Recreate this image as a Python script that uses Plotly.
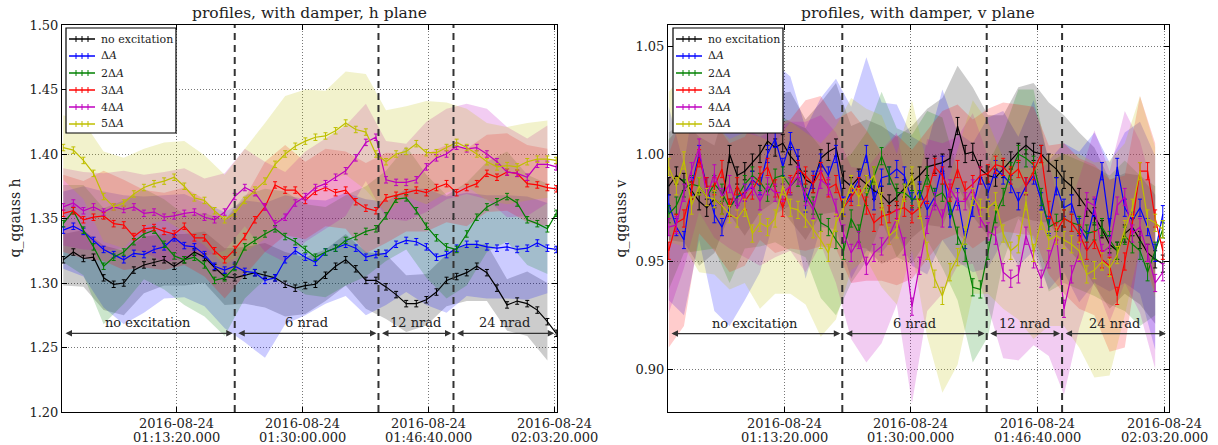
import pandas as pd
import plotly.graph_objects as go

# ---------------- data ----------------
BASE = "2016-08-24 01:00:00"
series_names = ["no excitation", "Δ<i>A</i>", "2Δ<i>A</i>", "3Δ<i>A</i>", "4Δ<i>A</i>", "5Δ<i>A</i>"]

# time offsets (s) from 01:00:00
t_h_sec = [-100, -20, 60, 140, 220, 300, 380, 460, 540, 620, 700, 780, 860, 940, 1020, 1100, 1180,
           1260, 1340, 1420, 1500, 1580, 1660, 1740, 1820, 1900, 1980, 2060, 2140, 2220, 2300, 2380,
           2460, 2540, 2620, 2700, 2780, 2860, 2940, 3020, 3100, 3180, 3260, 3340, 3420, 3500, 3580,
           3660, 3740, 3810]
t_v_sec = [-110, -50, 10, 70, 130, 190, 250, 310, 370, 430, 490, 550, 610, 670, 730, 790, 850, 910,
           970, 1030, 1090, 1150, 1210, 1270, 1330, 1390, 1450, 1510, 1570, 1630, 1690, 1750, 1810,
           1870, 1930, 1990, 2050, 2110, 2170, 2230, 2290, 2350, 2410, 2470, 2530, 2590, 2650, 2710,
           2770, 2830, 2890, 2950, 3010, 3070, 3130, 3190, 3250, 3310, 3370, 3430, 3490, 3550, 3610,
           3670, 3730, 3790]

h_noexc = [1.318, 1.324, 1.319, 1.320, 1.304, 1.299, 1.300, 1.310, 1.314, 1.316,
           1.318, 1.313, 1.318, 1.324, 1.320, 1.312, 1.305, 1.304, 1.306, 1.308,
           1.306, 1.304, 1.299, 1.296, 1.298, 1.299, 1.306, 1.313, 1.318, 1.311,
           1.302, 1.302, 1.297, 1.291, 1.284, 1.284, 1.287, 1.293, 1.302, 1.305,
           1.308, 1.313, 1.308, 1.296, 1.283, 1.286, 1.284, 1.279, 1.270, 1.261]
h_dA = [1.341, 1.344, 1.340, 1.333, 1.326, 1.322, 1.318, 1.323, 1.322, 1.326,
        1.328, 1.335, 1.329, 1.328, 1.322, 1.313, 1.310, 1.313, 1.309, 1.308,
        1.302, 1.304, 1.318, 1.325, 1.320, 1.316, 1.324, 1.327, 1.330, 1.327,
        1.320, 1.322, 1.323, 1.330, 1.333, 1.332, 1.328, 1.320, 1.322, 1.327,
        1.330, 1.330, 1.328, 1.327, 1.328, 1.326, 1.327, 1.331, 1.327, 1.326]
h_2dA = [1.346, 1.356, 1.341, 1.328, 1.313, 1.320, 1.324, 1.332, 1.338, 1.341,
         1.330, 1.321, 1.318, 1.320, 1.314, 1.302, 1.304, 1.312, 1.328, 1.333,
         1.338, 1.342, 1.336, 1.332, 1.326, 1.320, 1.324, 1.327, 1.333, 1.336,
         1.340, 1.342, 1.352, 1.365, 1.366, 1.356, 1.344, 1.335, 1.328, 1.326,
         1.338, 1.351, 1.359, 1.363, 1.367, 1.362, 1.349, 1.346, 1.342, 1.354]
h_3dA = [1.354, 1.356, 1.349, 1.351, 1.352, 1.346, 1.345, 1.336, 1.342, 1.343,
         1.340, 1.338, 1.344, 1.335, 1.335, 1.325, 1.318, 1.326, 1.336, 1.349,
         1.359, 1.376, 1.372, 1.372, 1.364, 1.371, 1.374, 1.370, 1.372, 1.363,
         1.358, 1.356, 1.366, 1.368, 1.370, 1.372, 1.370, 1.374, 1.377, 1.370,
         1.374, 1.377, 1.385, 1.382, 1.386, 1.385, 1.377, 1.376, 1.374, 1.373]
h_4dA = [1.359, 1.362, 1.356, 1.359, 1.355, 1.359, 1.357, 1.359, 1.354, 1.355,
         1.351, 1.352, 1.354, 1.355, 1.351, 1.349, 1.355, 1.367, 1.374, 1.370,
         1.359, 1.346, 1.351, 1.362, 1.367, 1.374, 1.377, 1.382, 1.387, 1.397,
         1.409, 1.413, 1.380, 1.378, 1.378, 1.380, 1.390, 1.397, 1.400, 1.406,
         1.404, 1.405, 1.400, 1.394, 1.386, 1.385, 1.382, 1.392, 1.392, 1.390]
h_5dA = [1.405, 1.403, 1.395, 1.385, 1.367, 1.359, 1.362, 1.369, 1.374, 1.377,
         1.379, 1.382, 1.375, 1.366, 1.364, 1.356, 1.349, 1.354, 1.364, 1.372,
         1.379, 1.392, 1.400, 1.406, 1.410, 1.413, 1.414, 1.418, 1.424, 1.419,
         1.417, 1.400, 1.394, 1.400, 1.402, 1.408, 1.401, 1.401, 1.405, 1.409,
         1.405, 1.400, 1.394, 1.390, 1.391, 1.390, 1.394, 1.396, 1.396, 1.395]

# band half widths (every second sample)
hw_h_noexc = [0.020, 0.022, 0.025, 0.025, 0.022, 0.020, 0.020, 0.020, 0.022, 0.022, 0.025, 0.025, 0.022,
              0.020, 0.020, 0.022, 0.025, 0.022, 0.020, 0.020, 0.022, 0.022, 0.020, 0.025, 0.030]
hw_h_dA = [0.030, 0.035, 0.045, 0.050, 0.045, 0.040, 0.040, 0.040, 0.045, 0.055, 0.060, 0.050, 0.045,
           0.040, 0.040, 0.045, 0.040, 0.040, 0.045, 0.045, 0.040, 0.040, 0.040, 0.040, 0.035]
hw_h_2dA = [0.030, 0.035, 0.045, 0.040, 0.035, 0.035, 0.035, 0.040, 0.045, 0.040, 0.035, 0.035, 0.035,
            0.035, 0.035, 0.035, 0.035, 0.040, 0.040, 0.040, 0.040, 0.035, 0.035, 0.035, 0.035]
hw_h_3dA = [0.030, 0.030, 0.035, 0.035, 0.030, 0.030, 0.030, 0.030, 0.030, 0.030, 0.035, 0.035, 0.030,
            0.030, 0.030, 0.035, 0.035, 0.030, 0.030, 0.030, 0.030, 0.030, 0.030, 0.030, 0.030]
hw_h_4dA = [0.030, 0.030, 0.030, 0.030, 0.030, 0.035, 0.035, 0.030, 0.030, 0.030, 0.035, 0.035, 0.035,
            0.035, 0.035, 0.030, 0.030, 0.030, 0.035, 0.035, 0.035, 0.035, 0.035, 0.030, 0.030]
hw_h_5dA = [0.025, 0.030, 0.035, 0.035, 0.030, 0.030, 0.035, 0.035, 0.035, 0.040, 0.045, 0.045, 0.040,
            0.035, 0.040, 0.045, 0.040, 0.035, 0.040, 0.035, 0.030, 0.030, 0.030, 0.030, 0.030]

v_noexc = [0.985, 0.990, 0.987, 0.983, 0.978, 0.975, 0.979, 0.976, 1.000, 0.990,
           0.992, 0.996, 1.000, 1.006, 1.003, 1.005, 0.999, 0.995, 0.988, 0.986,
           0.998, 1.001, 1.003, 0.988, 0.985, 0.989, 0.986, 0.983, 0.981, 0.977,
           0.980, 0.984, 0.987, 0.990, 0.994, 0.995, 0.996, 0.998, 1.013, 1.000,
           1.001, 0.993, 0.990, 0.989, 0.993, 0.997, 1.001, 1.004, 1.001, 1.000,
           0.996, 0.993, 0.988, 0.985, 0.980, 0.975, 0.971, 0.965, 0.958, 0.955,
           0.963, 0.966, 0.960, 0.954, 0.951, 0.949]
v_dA = [0.977, 0.966, 0.960, 0.985, 1.000, 0.985, 0.972, 0.966, 0.975, 0.980,
        0.982, 0.988, 0.985, 1.000, 1.007, 0.994, 1.006, 0.998, 0.977, 0.988,
        0.996, 0.990, 1.000, 0.976, 0.982, 0.988, 1.000, 0.978, 0.989, 0.990,
        0.993, 0.990, 0.978, 0.983, 0.974, 0.980, 0.995, 0.970, 0.980, 0.960,
        0.975, 0.990, 0.982, 0.993, 0.990, 0.986, 0.978, 0.985, 0.990, 0.978,
        0.967, 0.985, 0.975, 0.977, 0.966, 0.960, 0.975, 0.992, 0.966, 0.994,
        0.975, 0.969, 0.975, 0.966, 0.954, 0.972]
v_2dA = [0.972, 0.976, 0.984, 0.986, 0.985, 0.980, 0.986, 0.982, 0.975, 0.980,
         0.986, 0.990, 0.987, 0.982, 0.989, 0.990, 0.985, 0.989, 0.982, 0.976,
         0.968, 0.966, 0.960, 0.955, 0.970, 0.963, 0.980, 0.990, 0.999, 0.990,
         0.982, 0.982, 0.979, 0.979, 0.990, 0.980, 0.982, 0.976, 0.962, 0.954,
         0.938, 0.937, 0.955, 0.972, 0.980, 0.992, 1.000, 0.998, 0.995, 0.980,
         0.966, 0.968, 0.970, 0.968, 0.967, 0.963, 0.964, 0.966, 0.960, 0.955,
         0.962, 0.958, 0.955, 0.945, 0.955, 0.965]
v_3dA = [0.955, 0.968, 0.970, 0.983, 0.998, 0.985, 0.985, 0.993, 0.975, 0.985,
         0.978, 0.983, 0.990, 0.994, 0.984, 0.975, 0.986, 0.993, 0.990, 0.986,
         0.992, 0.984, 0.986, 0.975, 0.980, 0.985, 0.976, 0.968, 0.971, 0.972,
         0.974, 0.975, 0.972, 0.975, 0.981, 0.994, 0.990, 0.982, 0.993, 0.983,
         0.986, 0.990, 0.991, 0.995, 0.994, 0.990, 0.993, 0.985, 0.992, 1.000,
         0.974, 0.964, 0.970, 0.968, 0.963, 0.955, 0.960, 0.951, 0.948, 0.934,
         0.950, 0.968, 0.992, 0.992, 0.970, 0.955]
v_4dA = [0.966, 0.967, 0.982, 0.992, 1.003, 0.980, 0.991, 0.980, 0.986, 0.975,
         0.982, 0.985, 0.978, 0.985, 0.982, 0.982, 0.985, 0.990, 0.980, 0.974,
         0.988, 0.985, 0.975, 0.963, 0.954, 0.960, 0.948, 0.954, 0.957, 0.962,
         0.970, 0.957, 0.929, 0.948, 0.967, 0.978, 0.970, 0.984, 0.978, 0.978,
         0.984, 0.970, 0.964, 0.962, 0.945, 0.942, 0.944, 0.962, 0.951, 0.942,
         0.951, 0.962, 0.928, 0.944, 0.954, 0.978, 0.976, 0.954, 0.957, 0.976,
         0.980, 0.963, 0.966, 0.954, 0.940, 0.945]
v_5dA = [0.994, 0.985, 0.997, 0.976, 0.985, 0.980, 0.979, 0.976, 0.972, 0.970,
         0.975, 0.963, 0.968, 0.966, 0.970, 0.985, 0.975, 0.974, 0.970, 0.965,
         0.960, 0.954, 0.968, 0.975, 0.986, 0.980, 0.986, 0.990, 0.978, 0.962,
         0.965, 0.982, 0.990, 0.974, 0.955, 0.942, 0.934, 0.945, 0.952, 0.962,
         0.980, 0.975, 0.975, 0.978, 0.963, 0.955, 0.958, 0.978, 0.954, 0.969,
         0.960, 0.962, 0.960, 0.958, 0.955, 0.944, 0.946, 0.950, 0.947, 0.953,
         0.965, 0.975, 0.992, 0.970, 0.968, 0.965]

hw_v_noexc = [0.025, 0.028, 0.030, 0.025, 0.028, 0.030, 0.027, 0.025, 0.030, 0.028, 0.026, 0.030, 0.028,
              0.030, 0.032, 0.028, 0.026, 0.027, 0.030, 0.028, 0.030, 0.028, 0.025, 0.030, 0.032, 0.028,
              0.030, 0.030, 0.032, 0.030, 0.028, 0.030, 0.030]
hw_v_dA = [0.045, 0.035, 0.040, 0.045, 0.055, 0.050, 0.040, 0.035, 0.030, 0.035, 0.030, 0.035, 0.040,
           0.045, 0.035, 0.030, 0.030, 0.030, 0.035, 0.030, 0.030, 0.035, 0.030, 0.030, 0.035, 0.030,
           0.030, 0.035, 0.035, 0.030, 0.035, 0.040, 0.045]
hw_v_2dA = [0.035, 0.030, 0.030, 0.030, 0.035, 0.030, 0.030, 0.030, 0.030, 0.030, 0.035, 0.035, 0.030,
            0.030, 0.030, 0.030, 0.030, 0.030, 0.035, 0.030, 0.035, 0.040, 0.030, 0.030, 0.035, 0.030,
            0.030, 0.030, 0.030, 0.030, 0.035, 0.035, 0.030]
hw_v_3dA = [0.045, 0.050, 0.035, 0.030, 0.030, 0.030, 0.030, 0.030, 0.030, 0.035, 0.035, 0.030, 0.040,
            0.035, 0.030, 0.035, 0.030, 0.030, 0.030, 0.030, 0.030, 0.030, 0.030, 0.030, 0.030, 0.030,
            0.035, 0.035, 0.035, 0.040, 0.040, 0.035, 0.035]
hw_v_4dA = [0.040, 0.035, 0.030, 0.030, 0.030, 0.030, 0.030, 0.030, 0.030, 0.035, 0.030, 0.035, 0.040,
            0.045, 0.045, 0.040, 0.045, 0.040, 0.035, 0.030, 0.035, 0.035, 0.040, 0.040, 0.040, 0.045,
            0.040, 0.035, 0.035, 0.035, 0.040, 0.040, 0.040]
hw_v_5dA = [0.035, 0.040, 0.040, 0.035, 0.035, 0.035, 0.040, 0.035, 0.040, 0.040, 0.045, 0.045, 0.040,
            0.035, 0.040, 0.035, 0.035, 0.040, 0.045, 0.050, 0.045, 0.040, 0.035, 0.035, 0.040, 0.040,
            0.040, 0.045, 0.050, 0.050, 0.040, 0.035, 0.035]

err_h = 0.0025
err_v = 0.004

boundaries_sec = [1260, 2400, 2995]
section_labels = ["no excitation", "6 nrad", "12 nrad", "24 nrad"]
xtick_sec = [800, 1800, 2800, 3800]

# ---------------- styling ----------------
line_colors = ["#000000", "#0000ff", "#008000", "#ff0000", "#bf00bf", "#bfbf00"]
fill_colors = ["rgba(0,0,0,0.2)", "rgba(0,0,255,0.2)", "rgba(0,128,0,0.2)",
               "rgba(255,0,0,0.2)", "rgba(191,0,191,0.2)", "rgba(191,191,0,0.2)"]
FONT = "DejaVu Serif"
W, H = 1218, 445


def ts(secs):
    base = pd.Timestamp(BASE)
    return [(base + pd.Timedelta(seconds=s)).strftime("%Y-%m-%d %H:%M:%S") for s in secs]


def px(xp):
    return xp / W


def py(yp):
    return 1 - yp / H


fig = go.Figure()

panels = [
    dict(t=t_h_sec, ys=[h_noexc, h_dA, h_2dA, h_3dA, h_4dA, h_5dA],
         hws=[hw_h_noexc, hw_h_dA, hw_h_2dA, hw_h_3dA, hw_h_4dA, hw_h_5dA],
         err=err_h, xa="x", ya="y"),
    dict(t=t_v_sec, ys=[v_noexc, v_dA, v_2dA, v_3dA, v_4dA, v_5dA],
         hws=[hw_v_noexc, hw_v_dA, hw_v_2dA, hw_v_3dA, hw_v_4dA, hw_v_5dA],
         err=err_v, xa="x2", ya="y2"),
]

for p in panels:
    for i in range(6):
        bt = p["t"][::2]
        by = p["ys"][i][::2]
        hw = p["hws"][i]
        upper = [a + b for a, b in zip(by, hw)]
        lower = [a - b for a, b in zip(by, hw)]
        bx = ts(bt)
        fig.add_trace(go.Scatter(x=bx + bx[::-1], y=upper + lower[::-1], fill="toself",
                                 fillcolor=fill_colors[i], line=dict(width=0), mode="lines",
                                 hoverinfo="skip", showlegend=False,
                                 xaxis=p["xa"], yaxis=p["ya"]))
    for i in range(6):
        fig.add_trace(go.Scatter(x=ts(p["t"]), y=p["ys"][i], mode="lines", name=series_names[i],
                                 line=dict(color=line_colors[i], width=1.2),
                                 error_y=dict(type="constant", value=p["err"], color=line_colors[i],
                                              thickness=1, width=2),
                                 showlegend=False, xaxis=p["xa"], yaxis=p["ya"]))

# ---------------- layout ----------------
ydom = [(H - 412) / H, (H - 25) / H]
xdom1 = [62 / W, 557 / W]
xdom2 = [668 / W, 1169 / W]

common_x = dict(showline=True, linecolor="black", linewidth=1, mirror="ticks", ticks="inside",
                ticklen=5, tickcolor="black", showgrid=True, gridcolor="#777", griddash="1px,2px",
                gridwidth=1, tickvals=ts(xtick_sec), showticklabels=False, zeroline=False,
                automargin=False, layer="above traces")
common_y = dict(showline=True, linecolor="black", linewidth=1, mirror="ticks", ticks="inside",
                ticklen=5, tickcolor="black", showgrid=True, gridcolor="#777", griddash="1px,2px",
                gridwidth=1, zeroline=False, tickformat=".2f", automargin=False,
                tickfont=dict(family=FONT, size=13, color="#222"), layer="above traces")

fig.update_layout(
    width=W, height=H, margin=dict(l=0, r=0, t=0, b=0, autoexpand=False),
    paper_bgcolor="white", plot_bgcolor="white", showlegend=False,
    xaxis=dict(common_x, domain=xdom1, anchor="y", type="date", range=ts([-110, 3816])),
    yaxis=dict(common_y, domain=ydom, anchor="x", range=[1.20, 1.50], dtick=0.05, tick0=1.2),
    xaxis2=dict(common_x, domain=xdom2, anchor="y2", type="date", range=ts([-116, 3839])),
    yaxis2=dict(common_y, domain=ydom, anchor="x2", range=[0.88, 1.06],
                tickvals=[0.90, 0.95, 1.00, 1.05]),
)

titles = ["profiles, with damper, h plane", "profiles, with damper, v plane"]
ylabels = ["q_qgauss h", "q_qgauss v"]
legend_left = [66, 673]
for k, (xd, xr, yr) in enumerate([(xdom1, "x", "y"), (xdom2, "x2", "y2")]):
    fig.add_annotation(text=titles[k], x=(xd[0] + xd[1]) / 2, y=py(13), xref="paper", yref="paper",
                       showarrow=False, font=dict(family=FONT, size=15.5, color="#222"),
                       xanchor="center", yanchor="middle")
    fig.add_annotation(text=ylabels[k], x=(xd[0] * W - 47) / W, y=(ydom[0] + ydom[1]) / 2,
                       xref="paper", yref="paper", showarrow=False, textangle=-90,
                       font=dict(family=FONT, size=14, color="#222"),
                       xanchor="center", yanchor="middle")
    # two-line date tick labels
    for s in ts(xtick_sec):
        d, tm = s.split(" ")
        fig.add_annotation(text=d, x=s, y=py(423), xref=xr, yref="paper", showarrow=False,
                           xanchor="center", yanchor="middle",
                           font=dict(family=FONT, size=13, color="#222"))
        fig.add_annotation(text=tm + ".000", x=s, y=py(437), xref=xr, yref="paper", showarrow=False,
                           xanchor="center", yanchor="middle",
                           font=dict(family=FONT, size=13, color="#222"))
    for b in boundaries_sec:
        fig.add_shape(type="line", x0=ts([b])[0], x1=ts([b])[0], y0=0, y1=1, xref=xr,
                      yref=f"{yr} domain", line=dict(color="#333", width=2, dash="7px,5px"))

    # manual legend (box, error-bar glyph, label)
    L = legend_left[k]
    fig.add_shape(type="rect", xref="paper", yref="paper", x0=px(L), x1=px(L + 110),
                  y0=py(133), y1=py(28), line=dict(color="black", width=1.2), fillcolor="white",
                  layer="above")
    for i, name in enumerate(series_names):
        yc = 39 + 17 * i
        fig.add_shape(type="line", xref="paper", yref="paper", x0=px(L + 3), x1=px(L + 29),
                      y0=py(yc), y1=py(yc), line=dict(color=line_colors[i], width=1.5), layer="above")
        for tx in (L + 10, L + 16, L + 22):
            fig.add_shape(type="line", xref="paper", yref="paper", x0=px(tx), x1=px(tx),
                          y0=py(yc - 3), y1=py(yc + 3), line=dict(color=line_colors[i], width=1),
                          layer="above")
        fig.add_annotation(text=name, x=px(L + 33), y=py(yc), xref="paper", yref="paper",
                           showarrow=False, xanchor="left", yanchor="middle",
                           font=dict(family=FONT, size=11, color="#222"))

# arrows and section labels
arrow_specs = [("x", "y", 1.261, [-110, 1260, 2400, 2995, 3810]),
               ("x2", "y2", 0.9165, [-116, 1260, 2400, 2995, 3830])]
for xr, yr, ay, bnds in arrow_specs:
    for i in range(4):
        x0, x1 = ts([bnds[i]])[0], ts([bnds[i + 1]])[0]
        fig.add_annotation(x=x1, y=ay, ax=x0, ay=ay, xref=xr, yref=yr, axref=xr, ayref=yr,
                           text="", showarrow=True, arrowhead=2, arrowside="end+start",
                           arrowsize=1, arrowwidth=1.3, arrowcolor="#333",
                           standoff=2, startstandoff=2)
        mid = ts([(bnds[i] + bnds[i + 1]) / 2])[0]
        fig.add_annotation(x=mid, y=ay, xref=xr, yref=yr, text=section_labels[i], showarrow=False,
                           yanchor="bottom", yshift=1, font=dict(family=FONT, size=13, color="#222"))

fig.write_html("out.html")
